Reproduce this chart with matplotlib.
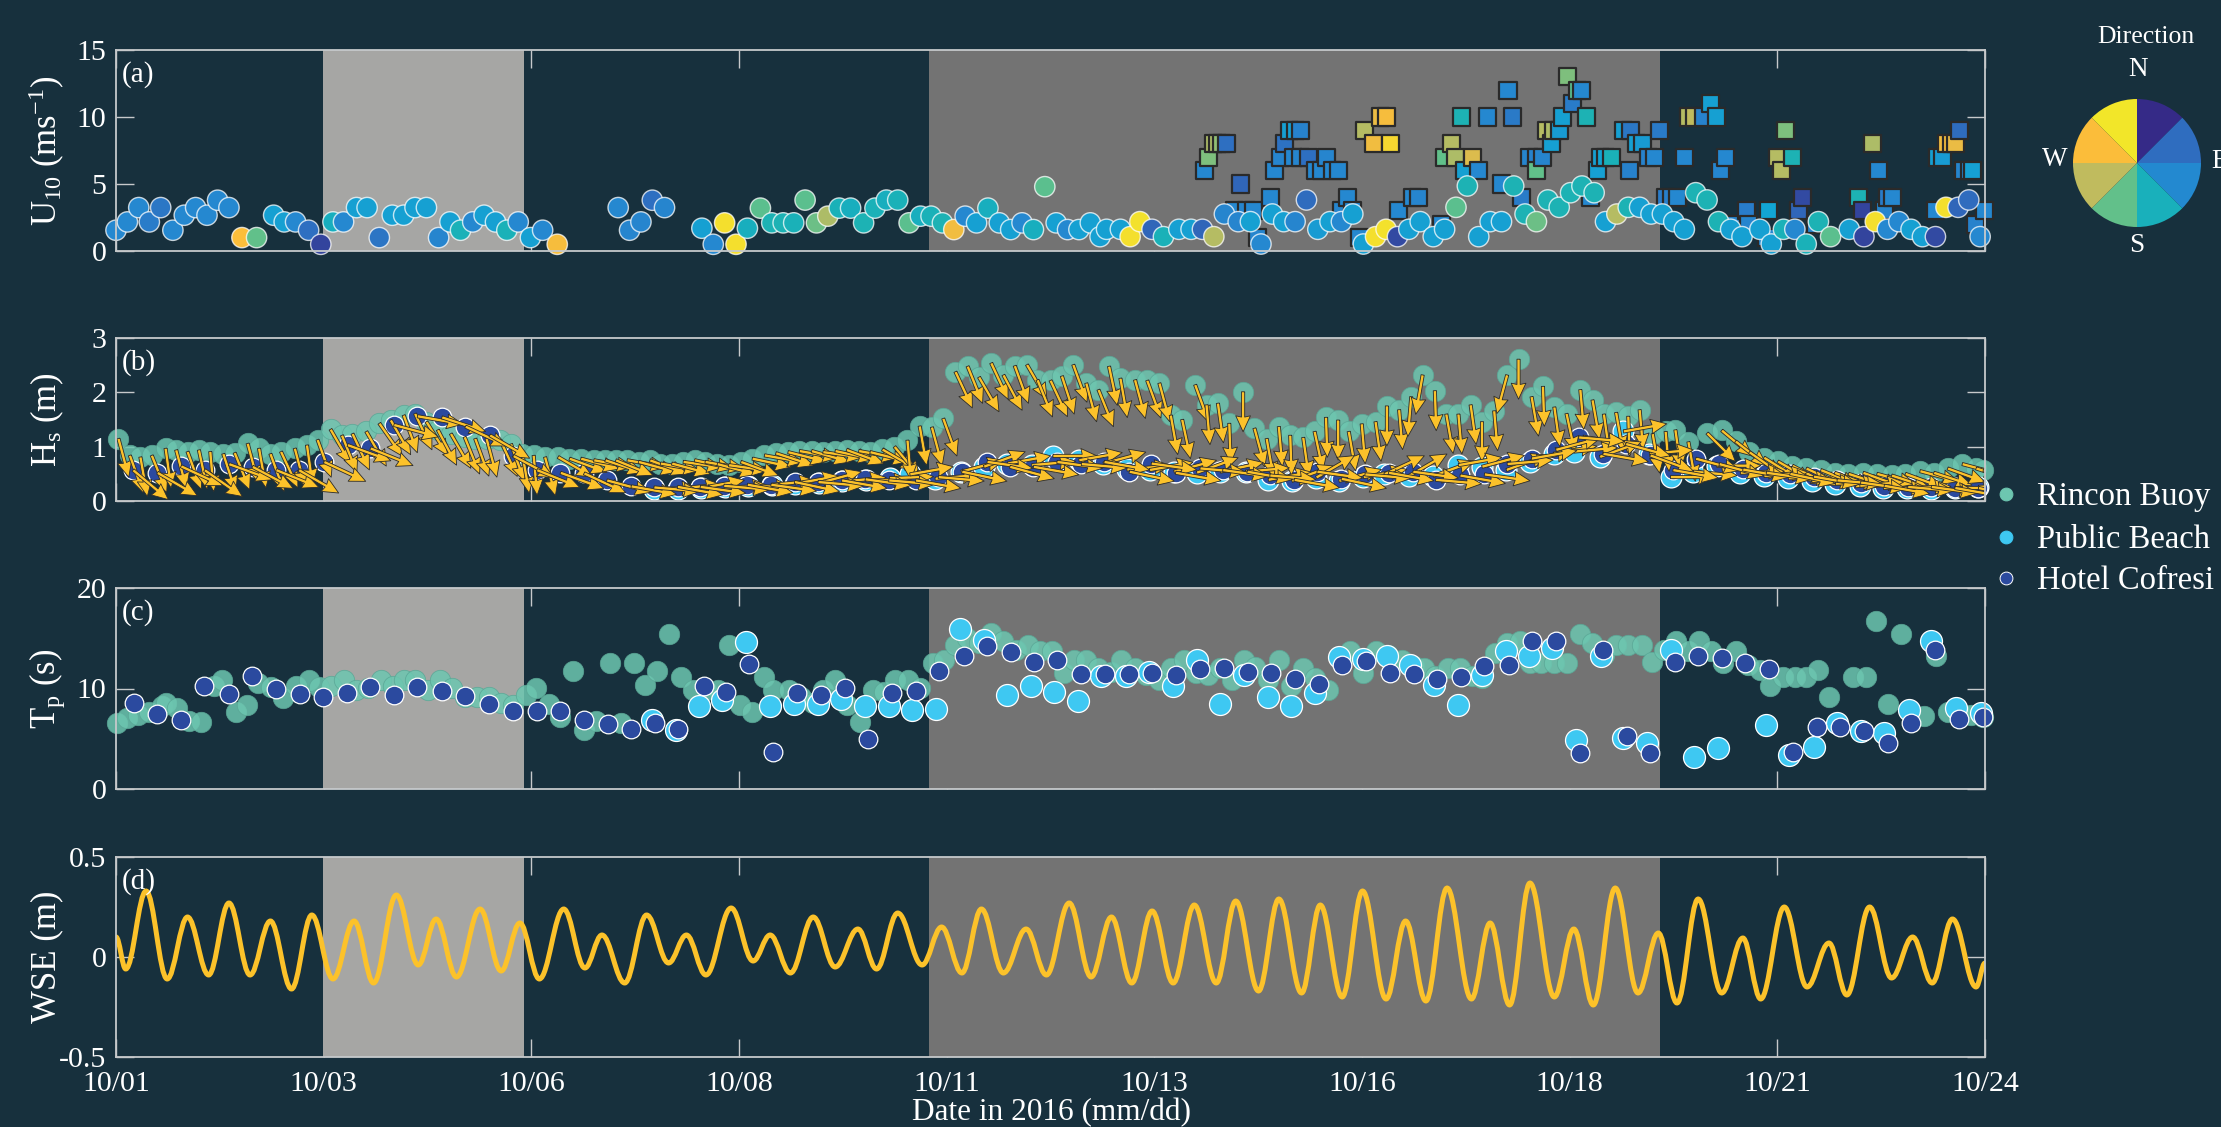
import numpy as np
import matplotlib
matplotlib.use("Agg")
import matplotlib.pyplot as plt
from matplotlib.colors import LinearSegmentedColormap
from matplotlib.path import Path
from matplotlib.patches import PathPatch
from datetime import datetime, timedelta

# ------------------------------------------------------------------
# Data. Time is given in days after 2016-10-01 00:00.
# ------------------------------------------------------------------
start_date = datetime(2016, 10, 1)
x_range_days = (0.0, 23.0)
light_period = (2.55, 5.02)     # shaded interval 1
storm_period = (10.0, 19.0)     # shaded interval 2

# (a) 10-m wind: buoy (circles) and land station (squares); dir in degrees from N
buoy_wind_day = [0.00,0.14,0.28,0.41,0.55,0.70,0.84,0.98,1.12,1.25,
                 1.39,1.55,1.73,1.94,2.07,2.21,2.37,2.52,2.67,2.80,
                 2.96,3.09,3.24,3.40,3.54,3.68,3.82,3.97,4.11,4.24,
                 4.39,4.53,4.67,4.81,4.95,5.10,5.25,5.43,6.18,6.32,
                 6.46,6.60,6.75,
                 7.21,7.35,7.49,7.63,7.77,7.93,8.07,8.21,8.34,8.48,
                 8.62,8.76,8.90,9.04,9.20,9.34,9.48,9.62,9.76,9.90,
                 10.03,10.17,10.31,10.45,10.59,10.73,10.87,11.01,11.15,11.29,
                 11.43,11.57,11.71,11.85,11.99,
                 12.11,12.19,12.36,12.48,12.60,12.75,12.89,13.08,13.23,13.37,
                 13.51,13.64,13.81,13.96,14.09,14.23,14.37,14.51,14.65,14.79,
                 14.94,15.08,15.22,15.35,15.50,15.63,15.77,15.91,16.05,16.21,
                 16.35,16.49,16.63,16.77,16.91,17.05,17.20,17.34,17.48,17.62,
                 17.76,17.90,18.04,18.19,18.33,18.47,18.61,18.75,18.89,19.03,
                 19.17,19.30,19.44,19.58,19.72,19.87,20.01,20.23,20.37,20.52,
                 20.66,20.80,20.95,21.10,21.33,21.51,21.65,21.80,21.94,22.09,
                 22.23,22.39,22.52,22.67,22.80,22.94]
buoy_wind_speed = [1.55,2.17,3.24,2.17,3.24,1.55,2.67,3.24,2.67,3.79,
                   3.24,1.00,1.00,2.67,2.17,2.17,1.55,0.50,2.17,2.17,
                   3.24,3.24,1.00,2.67,2.67,3.24,3.24,1.00,2.17,1.55,
                   2.17,2.67,2.17,1.55,2.17,1.00,1.55,0.50,3.24,1.55,
                   2.17,3.79,3.24,
                   1.7,0.5,2.1,0.5,1.7,3.2,2.1,2.1,2.1,3.8,
                   2.1,2.6,3.2,3.2,2.1,3.2,3.8,3.8,2.1,2.6,
                   2.6,2.1,1.6,2.6,2.1,3.2,2.1,1.6,2.1,1.6,
                   4.8,2.1,1.6,1.6,2.1,
                   1.07,1.62,1.62,1.07,2.19,1.62,1.07,1.62,1.62,1.62,
                   1.07,2.76,2.19,2.19,0.52,2.76,2.19,2.19,3.81,1.62,
                   2.19,2.19,2.76,0.52,1.07,1.62,1.07,1.62,2.19,1.07,
                   1.62,3.26,4.85,1.07,2.19,2.19,4.85,2.76,2.19,3.81,
                   3.26,4.35,4.85,4.35,2.19,2.76,3.26,3.26,2.76,2.76,
                   2.19,1.62,4.35,3.81,2.19,1.62,1.07,1.62,0.52,1.62,
                   1.62,0.52,2.19,1.07,1.62,1.07,2.19,1.62,2.19,1.62,
                   1.07,1.07,3.26,3.26,3.81,1.07]
buoy_wind_dir = [100,100,100,80,70,100,100,100,100,100,
                 100,310,205,125,125,100,55,20,150,100,
                 125,125,65,125,125,125,125,95,125,155,
                 100,125,125,155,100,125,100,305,100,95,
                 95,55,95,
                 125,100,350,350,150,200,160,160,155,200,
                 210,245,155,150,160,155,150,155,200,150,
                 155,160,300,100,125,150,125,125,100,150,
                 200,125,100,125,125,
                 125,125,125,350,352,45,155,125,125,45,
                 250,95,95,125,100,125,125,95,50,120,
                 125,100,125,125,350,352,25,125,125,125,
                 125,200,160,125,125,125,160,160,210,160,
                 160,160,160,160,125,250,160,125,125,125,
                 125,125,160,160,160,125,125,125,125,155,
                 100,155,160,200,125,20,350,100,100,125,
                 125,25,350,45,50,100]

station_wind_day = [13.40,13.45,13.51,13.56,13.61,13.66,13.77,13.84,13.91,14.00,
                    14.05,14.21,14.26,14.33,14.38,14.44,14.49,14.51,14.58,14.58,
                    14.67,14.76,14.83,14.90,14.97,15.04,15.08,15.15,15.22,15.30,
                    15.37,15.47,15.56,15.63,15.68,15.78,15.96,16.03,16.31,16.35,
                    16.43,16.49,16.56,16.60,16.69,16.77,16.88,17.05,17.13,17.18,
                    17.30,17.39,17.48,17.48,17.56,17.61,17.66,17.69,17.76,17.80,
                    17.86,17.92,17.98,18.04,18.10,18.15,18.23,18.27,18.33,18.40,
                    18.55,18.62,18.64,18.71,18.79,18.86,18.93,19.00,19.07,19.14,
                    19.21,19.30,19.35,19.42,19.53,19.62,19.70,19.74,19.81,19.88,
                    20.06,20.09,20.31,20.34,20.45,20.50,20.55,20.63,20.70,20.75,
                    20.91,21.44,21.49,21.62,21.69,21.76,21.80,21.86,22.39,22.42,
                    22.48,22.53,22.59,22.64,22.69,22.74,22.81,22.85,22.88,22.99]
station_wind_speed = [6,7,8,8,8,8,3,5,3,3,
                      1,4,6,7,8,9,7,9,9,7,
                      7,6,6,7,6,6,3,4,3,1,
                      9,8,10,10,8,3,4,4,2,7,
                      8,7,10,6,7,6,10,5,12,10,
                      4,7,7,6,7,9,8,9,9,10,
                      13,11,12,12,10,4,6,7,7,7,
                      9,6,9,8,8,7,7,9,4,4,
                      4,7,10,10,10,11,10,6,7,2,
                      3,2,1,3,7,6,9,7,3,4,
                      2,4,3,8,6,3,4,4,3,7,
                      7,8,8,8,9,6,6,6,2,3]
station_wind_dir = [100,220,245,245,230,55,100,45,95,100,
                    95,100,100,95,60,125,100,125,90,95,
                    55,100,100,95,100,100,95,100,100,100,
                    250,300,295,305,340,100,100,95,100,205,
                    250,245,160,125,280,100,100,100,100,75,
                    80,95,90,205,95,250,125,245,120,125,
                    220,80,200,100,160,100,125,125,130,155,
                    125,90,70,125,120,90,100,75,80,85,
                    100,100,250,255,90,125,125,95,100,95,
                    80,95,100,130,250,250,220,160,45,25,
                    95,160,20,245,100,95,80,100,100,125,
                    120,300,305,295,50,95,100,125,90,100]

# (b) significant wave height and mean wave propagation direction (deg from N)
rincon_hs_day = [0.03,0.17,0.30,0.44,0.61,0.74,0.88,1.02,1.16,1.32,
                 1.46,1.62,1.76,1.90,2.03,2.20,2.35,2.48,2.64,2.78,
                 2.91,3.08,3.24,3.38,3.54,3.68,3.82,3.96,4.12,4.29,
                 4.42,4.56,4.73,4.86,5.00,5.14,5.28,5.44,5.58,5.72,
                 5.88,6.02,6.15,6.29,6.43,6.57,6.70,6.84,6.98,7.12,
                 7.25,7.40,7.54,7.69,7.83,7.98,8.12,8.27,8.41,8.56,
                 8.70,8.85,8.99,9.14,9.28,9.43,9.58,
                 9.74,9.89,10.04,10.18,10.33,10.48,10.62,10.77,10.92,11.06,
                 11.21,11.34,11.50,11.64,11.78,11.94,12.09,12.22,12.36,12.54,
                 12.69,12.84,12.98,13.12,13.28,13.42,13.56,13.70,13.87,14.01,
                 14.16,14.31,14.45,14.61,14.75,14.89,15.04,15.17,15.33,15.50,
                 15.64,15.79,15.94,16.08,16.23,16.37,16.52,16.67,16.81,16.96,
                 17.12,17.26,17.42,17.56,17.70,17.85,18.02,18.17,18.31,18.46,
                 18.61,18.75,18.91,19.07,19.19,19.35,
                 19.58,19.76,19.93,20.10,20.28,20.45,20.63,20.80,20.98,21.15,
                 21.32,21.50,21.67,21.85,22.02,22.20,22.37,22.54,22.72,22.89,
                 22.98]
rincon_hs = [1.15,0.84,0.81,0.84,0.97,0.94,0.91,0.94,0.91,0.87,
             0.89,1.06,0.97,0.87,0.91,0.97,1.03,1.13,1.32,1.21,
             1.24,1.28,1.43,1.49,1.58,1.61,1.46,1.31,1.24,1.18,
             1.15,1.15,1.12,1.05,0.87,0.84,0.81,0.81,0.78,0.78,
             0.75,0.75,0.75,0.75,0.72,0.75,0.69,0.69,0.72,0.75,
             0.72,0.68,0.66,0.72,0.78,0.84,0.88,0.90,0.92,0.92,
             0.90,0.92,0.94,0.92,0.90,0.95,1.00,
             1.12,1.38,1.36,1.52,2.38,2.48,2.28,2.54,2.32,2.49,
             2.51,2.23,2.22,2.30,2.51,2.17,2.05,2.48,2.26,2.23,
             2.22,2.17,1.58,1.50,2.14,1.77,1.80,1.43,2.01,1.34,
             1.15,1.37,1.21,1.17,1.28,1.54,1.49,1.28,1.42,1.46,
             1.75,1.68,1.92,2.32,2.03,1.60,1.60,1.77,1.46,1.66,
             2.32,2.61,1.92,2.11,1.73,1.61,2.05,1.86,1.60,1.63,
             1.56,1.68,1.24,1.28,1.31,1.09,
             1.25,1.30,1.10,0.90,0.80,0.73,0.65,0.60,0.57,0.52,
             0.50,0.52,0.50,0.47,0.50,0.55,0.52,0.60,0.68,0.60,
             0.57]
rincon_wave_dir = [165,160,170,158,172,165,160,168,175,162,
                   158,165,170,160,155,165,172,160,150,158,
                   155,150,145,150,160,155,148,152,150,158,
                   160,165,155,160,170,175,165,120,110,105,
                   100,108,112,100,105,110,100,105,98,102,
                   100,105,98,110,102,100,108,104,100,106,
                   98,102,110,100,104,120,140,
                   175,170,165,160,155,158,150,155,152,160,
                   150,158,155,162,160,165,158,168,170,165,
                   160,165,170,168,160,175,172,178,180,165,
                   170,175,178,172,168,178,180,170,175,172,
                   180,175,185,190,178,170,175,172,180,175,
                   195,180,170,178,172,168,175,170,172,170,
                   178,175,170,175,172,170,
                   135,130,128,125,122,120,118,115,112,110,
                   108,110,105,108,110,105,108,110,105,108,
                   110]

hotel_hs_day = [0.21,0.51,0.80,1.09,1.39,1.68,1.97,2.25,2.56,2.85,
                3.13,3.42,3.71,4.01,4.30,4.60,4.89,5.18,5.47,5.76,
                6.04,6.34,6.62,6.91,7.19,
                7.48,7.77,8.06,8.35,8.64,8.93,9.22,9.51,
                9.84,10.12,10.41,10.72,11.00,11.29,11.58,11.88,12.16,12.47,
                12.74,13.04,13.34,13.62,13.92,14.20,14.50,14.78,15.08,15.37,
                15.66,15.96,16.24,16.54,16.84,17.12,17.42,17.72,18.00,18.30,
                18.58,18.88,19.16,19.44,
                19.73,20.02,20.31,20.60,20.89,21.18,21.47,21.76,22.05,22.34,
                22.63,22.92]
hotel_hs = [0.57,0.52,0.64,0.57,0.68,0.63,0.57,0.57,0.72,1.03,
            0.97,1.40,1.56,1.54,1.37,1.21,0.83,0.57,0.52,0.51,
            0.38,0.27,0.25,0.26,0.26,
            0.28,0.30,0.30,0.35,0.35,0.38,0.40,0.38,
            0.38,0.44,0.54,0.72,0.63,0.63,0.72,0.68,0.72,0.54,
            0.69,0.52,0.60,0.57,0.54,0.47,0.39,0.54,0.41,0.49,
            0.52,0.54,0.39,0.47,0.49,0.68,0.78,0.94,1.17,0.87,
            1.05,0.84,0.57,0.78,
            0.68,0.58,0.52,0.50,0.45,0.38,0.34,0.28,0.26,0.26,
            0.24,0.24]
hotel_wave_dir = [130,120,115,125,110,118,112,120,115,110,
                  112,105,100,108,115,120,118,112,110,115,
                  105,100,95,100,98,
                  95,100,98,102,95,100,98,95,
                  100,95,102,98,105,100,98,95,100,102,
                  98,100,95,98,100,95,100,98,102,95,
                  100,98,95,100,98,85,80,75,95,100,
                  105,110,100,105,
                  105,100,98,102,100,95,98,100,95,98,
                  100,102]

public_hs_day = [6.62,6.91,7.20,7.49,7.78,8.07,8.36,8.65,8.94,9.23,9.52,
                 9.77,10.08,10.40,10.68,10.97,11.27,11.53,11.85,12.15,12.44,
                 12.72,13.02,13.30,13.59,13.90,14.18,14.47,14.77,15.05,15.35,
                 15.61,15.91,16.21,16.52,16.81,17.11,17.40,17.69,17.94,18.26,
                 18.55,18.87,19.13,19.41,
                 19.70,19.99,20.28,20.58,20.87,21.16,21.46,21.75,22.04,22.34,
                 22.63,22.92]
public_hs = [0.23,0.23,0.24,0.25,0.28,0.30,0.32,0.33,0.36,0.38,0.42,
             0.49,0.41,0.54,0.63,0.69,0.66,0.83,0.75,0.69,0.58,
             0.57,0.54,0.52,0.54,0.54,0.39,0.37,0.43,0.37,0.44,
             0.49,0.46,0.46,0.66,0.63,0.57,0.72,0.87,0.91,0.81,
             1.28,0.87,0.44,0.54,
             0.65,0.52,0.46,0.42,0.37,0.32,0.28,0.24,0.24,0.22,
             0.24,0.26]
public_wave_dir = [90,85,80,88,92,85,80,75,85,90,88,
                   80,85,75,70,80,85,90,80,75,85,
                   80,75,70,78,85,80,70,60,75,80,
                   65,60,70,80,75,70,75,80,85,70,
                   80,85,90,95,
                   90,88,85,90,92,88,85,90,88,92,
                   90,88]

# (c) peak wave period
rincon_tp_day = [0.01,0.14,0.27,0.41,0.56,0.62,0.75,0.90,1.05,1.20,
                 1.31,1.48,1.61,1.75,1.91,2.06,2.22,2.37,2.50,2.65,
                 2.80,2.95,3.10,3.26,3.41,3.55,3.68,3.84,3.99,4.14,
                 4.29,4.44,4.59,4.74,4.89,5.04,5.17,5.33,5.46,5.62,
                 5.76,5.91,6.08,6.22,6.38,6.51,6.66,6.81,6.95,7.10,
                 7.26,7.41,7.54,7.68,7.83,7.98,8.09,8.28,8.43,8.58,
                 8.70,8.85,9.00,9.15,9.31,9.45,9.59,9.75,9.90,10.05,
                 10.19,10.32,10.47,10.62,10.77,10.92,11.07,11.22,11.37,11.52,
                 11.66,11.79,11.94,12.09,12.24,12.37,12.54,12.68,12.84,12.98,
                 13.14,13.29,13.44,13.59,13.73,13.88,14.02,14.18,14.31,14.46,
                 14.61,14.76,14.91,15.06,15.19,15.34,15.50,15.65,15.82,15.97,
                 16.10,16.23,16.39,16.54,16.69,16.81,16.97,17.12,17.28,17.40,
                 17.54,17.69,17.86,18.02,18.16,18.31,18.46,18.61,18.78,18.90,
                 19.05,19.20,19.35,19.48,19.63,19.78,19.93,20.08,20.23,20.36,
                 20.51,20.66,20.80,20.95,21.08,21.38,21.54,21.66,21.81,21.97,
                 22.25,22.40,22.55,22.68,22.83,22.98]
rincon_tp = [6.61,7.04,7.38,7.71,8.27,8.54,8.04,6.81,6.71,10.20,
             10.80,7.71,8.37,10.53,10.13,9.04,10.20,10.86,10.13,10.20,
             10.86,9.87,10.03,10.86,10.20,10.86,10.86,9.87,10.86,10.03,
             9.14,9.20,9.14,8.54,8.37,9.37,10.03,8.47,7.21,11.79,
             5.88,6.81,12.53,6.54,12.53,10.37,11.79,15.42,11.13,9.87,
             9.87,9.87,14.35,8.37,7.71,11.13,9.87,9.87,9.20,8.54,
             9.87,10.80,8.37,6.71,9.87,9.70,10.80,10.80,10.03,12.53,
             12.86,14.35,15.02,14.52,15.51,14.68,13.85,14.35,13.69,13.69,
             11.53,12.86,12.86,12.03,11.69,12.86,12.03,11.36,10.86,12.03,
             12.86,11.53,11.36,12.03,10.86,12.86,12.13,10.86,12.79,10.27,
             12.03,11.03,9.87,13.02,13.69,11.53,13.69,13.36,12.86,12.19,
             12.03,11.20,12.03,12.03,11.20,11.03,13.52,14.52,14.68,12.53,
             12.53,12.53,12.53,15.45,14.52,13.36,14.35,14.35,14.35,12.59,
             13.85,14.68,13.69,14.68,13.69,12.53,13.69,12.36,11.86,10.27,
             11.13,11.13,11.13,11.86,9.14,11.13,11.13,16.68,8.47,15.45,
             7.28,13.19,7.71,7.71,7.38,7.21]

hotel_tp_day = [0.22,0.50,0.80,1.08,1.39,1.67,1.97,2.26,2.55,2.84,
                3.13,3.42,3.71,4.01,4.30,4.59,4.89,5.18,5.47,5.76,
                6.05,6.34,6.63,6.92,7.23,7.51,7.79,8.09,8.38,8.67,
                8.97,9.26,9.55,9.84,10.13,10.43,10.72,11.01,11.30,11.58,
                11.88,12.17,12.46,12.75,13.04,13.34,13.63,13.93,14.21,14.51,
                14.80,15.09,15.38,15.68,15.97,16.26,16.55,16.84,17.14,17.43,
                17.72,18.01,18.30,18.59,18.88,19.18,19.47,19.76,20.05,20.34,
                20.64,20.93,21.22,21.51,21.81,22.09,22.38,22.68,22.98]
hotel_tp = [8.54,7.48,6.88,10.27,9.47,11.26,9.93,9.44,9.20,9.53,
            10.10,9.37,10.10,9.77,9.27,8.44,7.77,7.81,7.81,6.88,
            6.48,5.98,6.54,5.95,10.27,9.70,12.46,3.65,9.53,9.37,
            10.03,4.95,9.53,9.80,11.79,13.26,14.19,13.59,12.59,12.86,
            11.46,11.46,11.46,11.59,11.36,11.93,12.03,11.69,11.59,10.93,
            10.47,12.36,12.69,11.59,11.46,10.96,11.13,12.26,12.36,14.68,
            14.68,3.55,13.85,5.28,3.55,12.59,13.19,13.02,12.53,11.93,
            3.72,6.15,6.21,5.81,4.55,6.61,13.85,6.94,7.14]

public_tp_day = [6.59,6.89,7.17,7.46,7.75,8.05,8.34,8.64,8.92,9.22,
                 9.51,9.80,10.09,10.39,10.68,10.97,11.26,11.54,
                 11.84,12.12,12.43,12.71,13.01,13.30,13.59,13.88,14.18,14.46,
                 14.76,15.05,15.34,15.64,15.93,16.22,16.51,16.81,17.10,17.39,
                 17.67,17.97,18.27,18.55,18.84,19.14,19.42,19.72,20.31,20.59,
                 20.89,21.18,21.48,21.76,22.06,22.34,22.64,22.95]
public_tp = [6.88,5.88,8.21,8.87,14.58,8.21,8.47,8.47,8.94,8.27,
             8.21,7.87,7.94,15.91,14.85,9.37,10.27,9.70,
             8.77,11.20,11.20,11.69,10.20,12.86,8.47,11.36,9.14,8.27,
             9.53,13.12,12.92,13.26,12.36,10.37,8.37,11.36,13.69,13.26,
             14.02,4.88,13.19,5.05,4.55,13.79,3.16,4.05,6.38,3.39,
             4.15,6.61,5.81,5.55,7.87,14.68,8.04,7.61]

# (d) water surface elevation: successive high / low waters (m)
wse_day = [0.00,
           0.12,0.37,0.63,0.88,1.14,1.39,1.65,1.90,2.16,2.41,
           2.67,2.93,3.17,3.45,3.72,3.94,4.19,4.48,4.74,4.97,
           5.21,5.51,5.77,5.98,6.26,6.53,6.80,7.02,7.26,7.57,
           7.84,8.05,8.30,8.58,8.85,9.13,9.36,9.62,9.92,10.16,
           10.41,10.65,10.92,11.20,11.45,
           11.73,12.00,12.25,12.50,12.75,13.01,13.27,13.54,13.78,14.06,
           14.31,14.59,14.82,15.09,15.34,15.63,15.87,16.12,16.38,16.68,
           16.91,17.15,17.40,17.70,17.94,18.18,18.45,18.73,18.98,19.21,
           19.47,19.76,20.02,20.24,20.53,20.81,21.08,21.30,21.58,21.85,
           22.11,22.35,22.60,22.89,
           23.00]
wse = [0.10,
       -0.06,0.33,-0.11,0.20,-0.09,0.27,-0.09,0.18,-0.16,0.21,
       -0.11,0.18,-0.13,0.31,-0.04,0.19,-0.10,0.24,-0.07,0.17,
       -0.11,0.24,-0.055,0.11,-0.13,0.21,-0.03,0.11,-0.09,0.245,
       -0.02,0.11,-0.08,0.20,-0.05,0.14,-0.06,0.22,-0.04,0.15,
       -0.08,0.24,-0.08,0.14,-0.09,
       0.27,-0.10,0.20,-0.13,0.23,-0.13,0.26,-0.13,0.28,-0.17,
       0.29,-0.18,0.26,-0.20,0.33,-0.21,0.18,-0.22,0.345,-0.21,
       0.17,-0.24,0.37,-0.20,0.14,-0.24,0.345,-0.18,0.12,-0.23,
       0.29,-0.18,0.095,-0.21,0.25,-0.15,0.07,-0.19,0.25,-0.105,
       0.10,-0.13,0.19,-0.15,
       -0.03]

# direction key (pie): eight equal compass sectors, clockwise from north
sector_names = ["N-NE", "NE-E", "E-SE", "SE-S", "S-SW", "SW-W", "W-NW", "NW-N"]
sector_share = [1, 1, 1, 1, 1, 1, 1, 1]
station_names = ["Rincon Buoy", "Public Beach", "Hotel Cofresi"]

# ------------------------------------------------------------------
# Style
# ------------------------------------------------------------------
BG = "#17303d"
FG = "#ffffff"
SPINE = "#c6c9cb"
SPAN_COLORS = ["#a6a6a4", "#737373"]
RINCON_C = "#6dc6b0"
PUBLIC_C = "#3ec8f2"
HOTEL_C = "#2b4a9f"
YELLOW = "#fcc22a"
SECTOR_COLORS = ["#352a87", "#2f6dbf", "#2389d0", "#19b0bb",
                 "#62c08a", "#c0bb5e", "#fbbd3a", "#f2e629"]
compass_cmap = LinearSegmentedColormap.from_list(
    "compass",
    [(0.00, "#352a87"), (0.14, "#2f6dbf"), (0.28, "#2588d0"),
     (0.36, "#12a5d3"), (0.44, "#1bb2b5"), (0.57, "#62c08a"),
     (0.71, "#c0bb5e"), (0.86, "#fbbd3a"), (1.00, "#f2e72a")])

plt.rcParams.update({
    "font.family": ["Liberation Serif", "DejaVu Serif"],
    "mathtext.fontset": "custom",
    "mathtext.rm": "Liberation Serif",
    "mathtext.it": "Liberation Serif:italic",
    "mathtext.bf": "Liberation Serif:bold",
    "axes.unicode_minus": False,
})

W, H = 2221, 1127
fig = plt.figure(figsize=(W / 100, H / 100), dpi=100, facecolor=BG)


def px_axes(left, top, right, bottom):
    return fig.add_axes([left / W, 1 - bottom / H, (right - left) / W, (bottom - top) / H])


ax_a = px_axes(116, 50, 1985, 251)
ax_b = px_axes(116, 338, 1985, 501)
ax_c = px_axes(116, 588, 1985, 789)
ax_d = px_axes(116, 857, 1985, 1057)

tick_days = np.linspace(x_range_days[0], x_range_days[1], 10)
tick_labels = [(start_date + timedelta(days=float(t))).strftime("%m/%d") for t in tick_days]


def style(ax, ylim, yticks, yticklabels, ylabel, tag, show_x=False):
    ax.set_facecolor(BG)
    ax.set_xlim(*x_range_days)
    ax.set_ylim(*ylim)
    ax.set_axisbelow(True)
    for (a, b), c in zip([light_period, storm_period], SPAN_COLORS):
        ax.axvspan(a, b, color=c, lw=0, zorder=1)
    for s in ax.spines.values():
        s.set_color(SPINE)
        s.set_linewidth(1.3)
        s.set_zorder(8)
    ax.set_xticks(tick_days)
    ax.set_xticklabels(tick_labels if show_x else [])
    ax.set_yticks(yticks)
    ax.set_yticklabels(yticklabels)
    ax.tick_params(direction="in", length=13, width=1.0, color=SPINE,
                   top=True, right=True, labelsize=21.5, labelcolor=FG, pad=7)
    ax.tick_params(axis="x", pad=10)
    ax.set_ylabel(ylabel, fontsize=25, color=FG, va="center")
    ax.yaxis.set_label_coords(-0.037, 0.5)
    ax.annotate(tag, xy=(0, 1), xycoords="axes fraction", xytext=(4, -8),
                textcoords="offset points", va="top", ha="left",
                fontsize=21, color=FG, zorder=9)


style(ax_a, (0, 15), [0, 5, 10, 15], ["0", "5", "10", "15"],
      r"U$_{\mathregular{10}}$ (ms$^{\mathregular{-1}}$)", "(a)")
style(ax_b, (0, 3), [0, 1, 2, 3], ["0", "1", "2", "3"],
      r"H$_{\mathregular{s}}$ (m)", "(b)")
style(ax_c, (0, 20), [0, 10, 20], ["0", "10", "20"],
      r"T$_{\mathregular{p}}$ (s)", "(c)")
style(ax_d, (-0.5, 0.5), [-0.5, 0, 0.5], ["-0.5", "0", "0.5"],
      "WSE (m)", "(d)", show_x=True)

# ---- (a) wind speed coloured by direction ----
ax_a.scatter(station_wind_day, station_wind_speed, c=station_wind_dir,
             cmap=compass_cmap, vmin=0, vmax=360, marker="s", s=150,
             edgecolors="#2a2a2a", linewidths=1.6, zorder=3, clip_on=False)
ax_a.scatter(buoy_wind_day, buoy_wind_speed, c=buoy_wind_dir,
             cmap=compass_cmap, vmin=0, vmax=360, marker="o", s=215,
             edgecolors=(1, 1, 1, 0.75), linewidths=1.0, zorder=4, clip_on=False)

# ---- (b) wave height with direction arrows ----
ax_b.scatter(rincon_hs_day, rincon_hs, s=215, color=RINCON_C, alpha=0.85,
             edgecolors="#5aa796", linewidths=0.6, zorder=3, clip_on=False)
ax_b.scatter(public_hs_day, public_hs, s=225, color=PUBLIC_C,
             edgecolors="white", linewidths=0.9, zorder=4, clip_on=False)
ax_b.scatter(hotel_hs_day, hotel_hs, s=180, color=HOTEL_C,
             edgecolors="white", linewidths=0.9, zorder=5, clip_on=False)


def wave_arrows(ax, day, hs, bearing, length_px):
    ang = np.deg2rad(90.0 - np.asarray(bearing, dtype=float))
    u = length_px * np.cos(ang)
    v = length_px * np.sin(ang)
    ax.quiver(day, hs, u, v, angles="uv", scale_units="dots", scale=1,
              units="dots", width=3.2, headwidth=4.6, headlength=5.0,
              headaxislength=4.6, color=YELLOW, edgecolor="#2b2b2b",
              linewidth=0.6, zorder=6)


wave_arrows(ax_b, rincon_hs_day, rincon_hs, rincon_wave_dir, 40)
wave_arrows(ax_b, public_hs_day, public_hs, public_wave_dir, 44)
wave_arrows(ax_b, hotel_hs_day, hotel_hs, hotel_wave_dir, 46)

# ---- (c) peak period ----
ax_c.scatter(rincon_tp_day, rincon_tp, s=215, color=RINCON_C, alpha=0.85,
             edgecolors="#5aa796", linewidths=0.6, zorder=3, clip_on=False)
ax_c.scatter(public_tp_day, public_tp, s=250, color=PUBLIC_C,
             edgecolors="white", linewidths=0.9, zorder=4, clip_on=False)
ax_c.scatter(hotel_tp_day, hotel_tp, s=180, color=HOTEL_C,
             edgecolors="white", linewidths=0.9, zorder=5, clip_on=False)


# ---- (d) water level: smooth curve through successive extremes ----
def extremes_path(t, v, k=0.37):
    verts = [(t[0], v[0])]
    codes = [Path.MOVETO]
    for i in range(len(t) - 1):
        d = t[i + 1] - t[i]
        verts += [(t[i] + k * d, v[i]), (t[i + 1] - k * d, v[i + 1]), (t[i + 1], v[i + 1])]
        codes += [Path.CURVE4] * 3
    return Path(verts, codes)


ax_d.add_patch(PathPatch(extremes_path(wse_day, wse), fill=False, edgecolor=YELLOW,
                         lw=3.6, zorder=4, capstyle="round", joinstyle="round"))

fig.text(1051 / W, 1 - 1113 / H, "Date in 2016 (mm/dd)", ha="center", va="center",
         fontsize=22.5, color=FG)

# ---- station legend and direction key ----
overlay = fig.add_axes([0, 0, 1, 1])
overlay.set_xlim(0, W)
overlay.set_ylim(H, 0)
overlay.axis("off")
legend_style = [(RINCON_C, RINCON_C), (PUBLIC_C, PUBLIC_C), (HOTEL_C, "white")]
for name, (fc, ec), yb in zip(station_names, legend_style, [505, 548, 589]):
    overlay.scatter([2006], [yb - 11], s=85, color=fc, edgecolors=ec, linewidths=0.7)
    overlay.text(2037, yb, name, fontsize=23.5, color=FG, ha="left", va="baseline")

ax_pie = px_axes(2073, 99, 2201, 227)
ax_pie.pie(sector_share, colors=SECTOR_COLORS, startangle=90, counterclock=False,
           wedgeprops=dict(linewidth=0))
ax_pie.set_xlim(-1, 1)
ax_pie.set_ylim(-1, 1)
ax_pie.set_aspect("equal")

overlay.text(2146, 37, "Direction", fontsize=18.5, color=FG, ha="center", va="center")
overlay.text(2138, 69, "N", fontsize=19.5, color=FG, ha="center", va="center")
overlay.text(2137, 246, "S", fontsize=19.5, color=FG, ha="center", va="center")
overlay.text(2068, 160, "W", fontsize=19.5, color=FG, ha="right", va="center")
overlay.text(2211, 162, "E", fontsize=19.5, color=FG, ha="left", va="center")

fig.savefig("out.png", dpi=100, facecolor=BG)
